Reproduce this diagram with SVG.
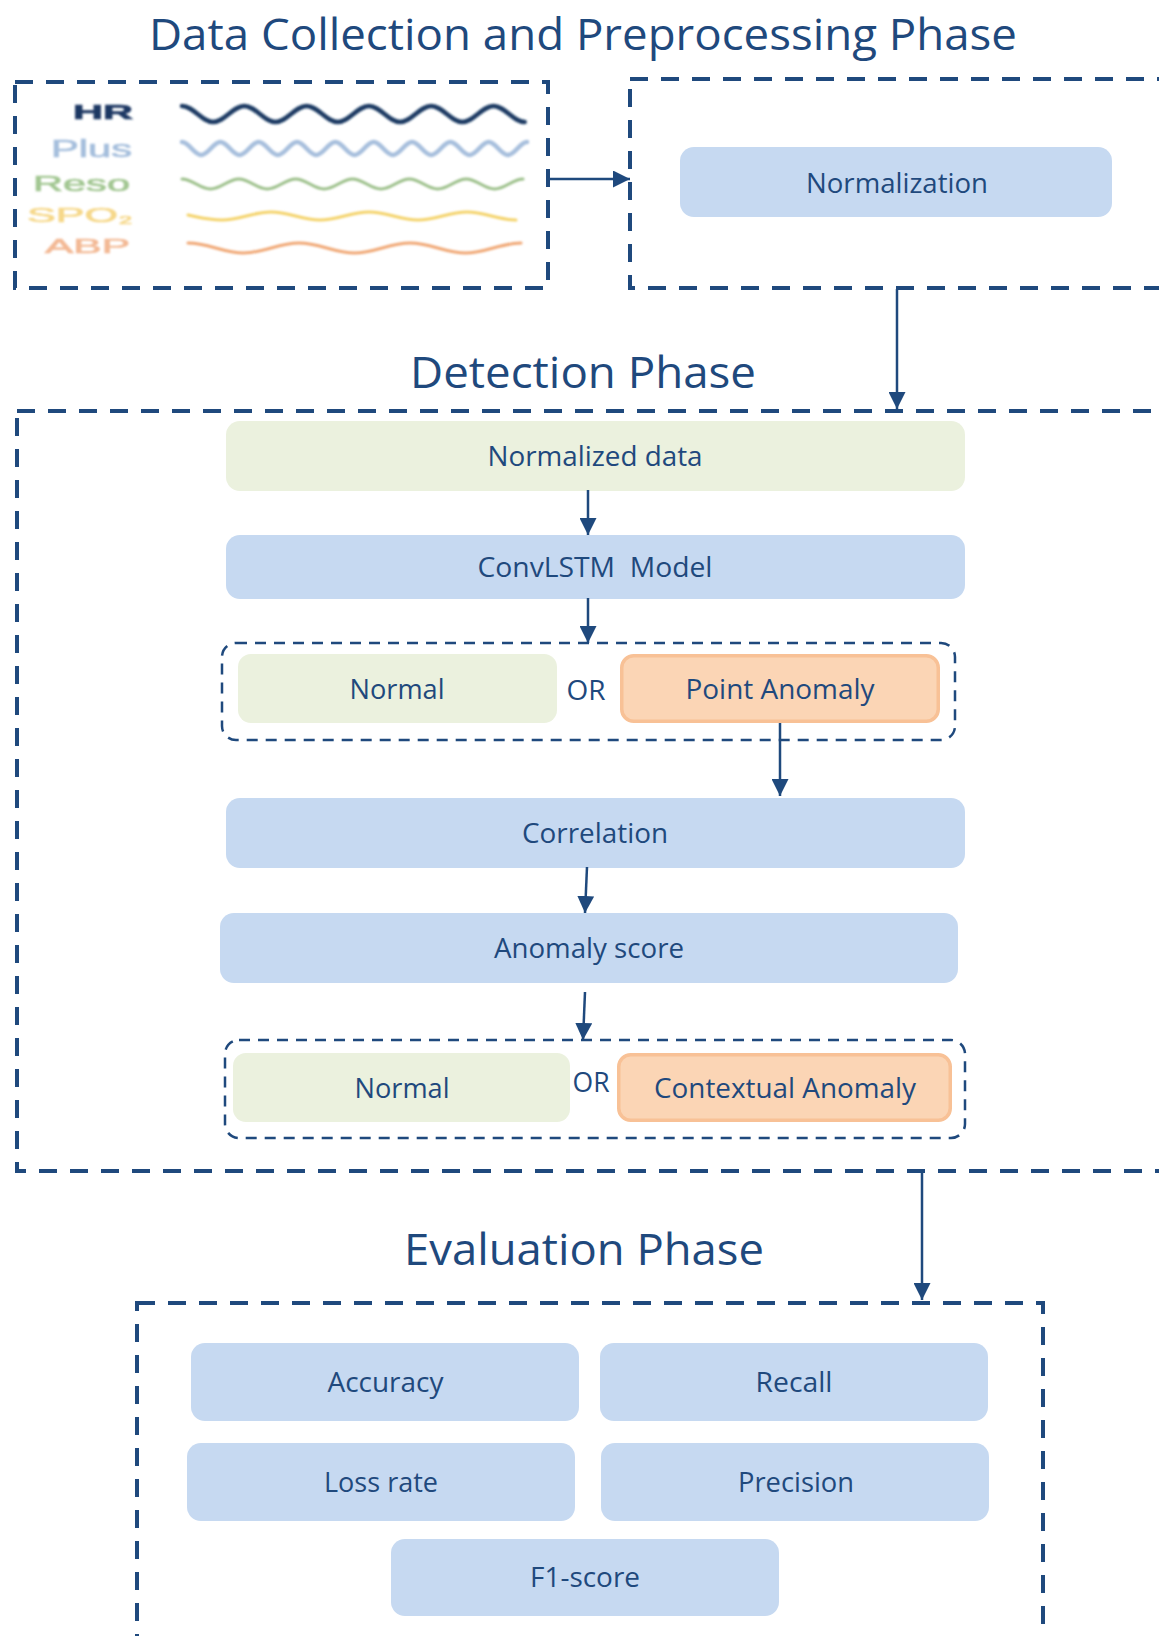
<svg xmlns="http://www.w3.org/2000/svg" width="1159" height="1636" viewBox="0 0 1159 1636">
  <style>
    .frame { fill: none; stroke: #1F497D; stroke-width: 4; stroke-dasharray: 18 13; }
    .group { fill: none; stroke: #1F497D; stroke-width: 2.5; stroke-dasharray: 11 8; }
    .blue { fill: #C6D9F1; }
    .green { fill: #EBF1DE; }
    .orange { fill: #FBD5B5; stroke: #F8C196; stroke-width: 3.5; }
    .lbl { font-family: "Open Sans", "Noto Sans", sans-serif; font-size: 26.5px; fill: #1F497D; text-anchor: middle; }
    .title { font-family: "Open Sans", "Noto Sans", sans-serif; font-size: 44px; fill: #1F497D; text-anchor: middle; }
    .sig { font-family: "Liberation Sans", Arial, sans-serif; stroke-width: 0.7; }
    .wave { fill: none; stroke-linecap: round; }
    .conn line { stroke: #1F497D; stroke-width: 2.5; marker-end: url(#arrow); }
  </style>
  <defs>
    <marker id="arrow" markerUnits="userSpaceOnUse" markerWidth="17" markerHeight="17" refX="17" refY="8.5" orient="auto">
      <path d="M0,0 L17,8.5 L0,17 Z" fill="#1F497D"/>
    </marker>
    <filter id="soft" x="-5%" y="-5%" width="110%" height="110%">
      <feGaussianBlur stdDeviation="0.8"/>
    </filter>
  </defs>

  <rect width="1159" height="1636" fill="#FFFFFF"/>

  <!-- Phase titles -->
  <text class="title" x="583" y="50" textLength="868" lengthAdjust="spacingAndGlyphs">Data Collection and Preprocessing Phase</text>
  <text class="title" x="583" y="388" textLength="346" lengthAdjust="spacingAndGlyphs">Detection Phase</text>
  <text class="title" x="584" y="1265" textLength="360" lengthAdjust="spacingAndGlyphs">Evaluation Phase</text>

  <!-- Phase frames -->
  <rect class="frame" x="15" y="82" width="533" height="206"/>
  <rect class="frame" x="630" y="79" width="580" height="209"/>
  <rect class="frame" x="17" y="411" width="1190" height="760"/>
  <rect class="frame" x="137" y="1303" width="906" height="400"/>

  <!-- Vital-sign signals -->
  <g id="signals" filter="url(#soft)">
    <text class="sig" x="73" y="119" font-size="21" font-weight="bold" fill="#1F3864" stroke="#1F3864" textLength="60" lengthAdjust="spacingAndGlyphs">HR</text>
    <text class="sig" x="51" y="157" font-size="23.5" fill="#A6BFDD" stroke="#A6BFDD" textLength="81" lengthAdjust="spacingAndGlyphs">Plus</text>
    <text class="sig" x="33" y="191" font-size="22" fill="#A3C793" stroke="#A3C793" textLength="97" lengthAdjust="spacingAndGlyphs">Reso</text>
    <text class="sig" x="27" y="222" font-size="21" fill="#F6D88A" stroke="#F6D88A" textLength="91" lengthAdjust="spacingAndGlyphs">SPO</text>
    <text class="sig" x="119" y="224" font-size="11" fill="#F6D88A" stroke="#F6D88A" textLength="13" lengthAdjust="spacingAndGlyphs">2</text>
    <text class="sig" x="45" y="253" font-size="21" fill="#F3B995" stroke="#F3B995" textLength="85" lengthAdjust="spacingAndGlyphs">ABP</text>

    <!-- HR -->
    <path class="wave" stroke="#1B3A63" stroke-width="4.5" d="M182,106
      c11.35,0 19.8,16 31.15,16 c11.35,0 19.8,-16 31.15,-16
      c11.35,0 19.8,16 31.15,16 c11.35,0 19.8,-16 31.15,-16
      c11.35,0 19.8,16 31.15,16 c11.35,0 19.8,-16 31.15,-16
      c11.35,0 19.8,16 31.15,16 c11.35,0 19.8,-16 31.15,-16
      c11.35,0 19.8,16 31.15,16 c11.35,0 19.8,-16 31.15,-16
      c11.35,0 19.8,16 31.15,16"/>
    <!-- Plus -->
    <path class="wave" stroke="#A7BFDD" stroke-width="4.5" d="M182,142
      c6.98,0 12.19,13 19.17,13 c6.98,0 12.19,-13 19.17,-13
      c6.98,0 12.19,13 19.17,13 c6.98,0 12.19,-13 19.17,-13
      c6.98,0 12.19,13 19.17,13 c6.98,0 12.19,-13 19.17,-13
      c6.98,0 12.19,13 19.17,13 c6.98,0 12.19,-13 19.17,-13
      c6.98,0 12.19,13 19.17,13 c6.98,0 12.19,-13 19.17,-13
      c6.98,0 12.19,13 19.17,13 c6.98,0 12.19,-13 19.17,-13
      c6.98,0 12.19,13 19.17,13 c6.98,0 12.19,-13 19.17,-13
      c6.98,0 12.19,13 19.17,13 c6.98,0 12.19,-13 19.17,-13
      c6.98,0 12.19,13 19.17,13 c6.98,0 12.19,-13 19.17,-13"/>
    <!-- Reso -->
    <path class="wave" stroke="#9CC08A" stroke-width="3" d="M182,179
      c10.35,0 18.07,10 28.42,10 c10.35,0 18.07,-10 28.42,-10
      c10.35,0 18.07,10 28.42,10 c10.35,0 18.07,-10 28.42,-10
      c10.35,0 18.07,10 28.42,10 c10.35,0 18.07,-10 28.42,-10
      c10.35,0 18.07,10 28.42,10 c10.35,0 18.07,-10 28.42,-10
      c10.35,0 18.07,10 28.42,10 c10.35,0 18.07,-10 28.42,-10
      c10.35,0 18.07,10 28.42,10 c10.35,0 18.07,-10 28.42,-10"/>
    <!-- SPO2 -->
    <path class="wave" stroke="#F4D36A" stroke-width="3" d="M188,215
      c12,2.5 21,5 34,5
      c17.85,0 31.15,-8 49,-8 c17.85,0 31.15,8 49,8
      c17.85,0 31.15,-8 49,-8 c17.85,0 31.15,8 49,8
      c17.85,0 31.15,-8 49,-8 c17.85,0 31.15,8 49,8"/>
    <!-- ABP -->
    <path class="wave" stroke="#F0A774" stroke-width="3" d="M188,243
      c20.2,0 35.3,10 55.5,10 c20.2,0 35.3,-10 55.5,-10
      c20.2,0 35.3,10 55.5,10 c20.2,0 35.3,-10 55.5,-10
      c20.2,0 35.3,10 55.5,10 c20.2,0 35.3,-10 55.5,-10"/>
  </g>

  <!-- Preprocessing -->
  <g id="normalization">
    <rect class="blue" x="680" y="147" width="432" height="70" rx="14"/>
    <text class="lbl" x="897" y="193" textLength="182" lengthAdjust="spacingAndGlyphs">Normalization</text>
  </g>

  <!-- Detection -->
  <g id="normalized-data">
    <rect class="green" x="226" y="421" width="739" height="70" rx="14"/>
    <text class="lbl" x="595" y="466" textLength="215" lengthAdjust="spacingAndGlyphs">Normalized data</text>
  </g>
  <g id="convlstm">
    <rect class="blue" x="226" y="535" width="739" height="64" rx="14"/>
    <text class="lbl" x="595" y="577" xml:space="preserve" textLength="235" lengthAdjust="spacingAndGlyphs">ConvLSTM  Model</text>
  </g>
  <g id="point-result">
    <rect class="group" x="222" y="643" width="733" height="97" rx="14"/>
    <rect class="green" x="238" y="654" width="319" height="69" rx="13"/>
    <text class="lbl" x="397" y="699" textLength="95" lengthAdjust="spacingAndGlyphs">Normal</text>
    <text class="lbl" x="586" y="700" textLength="39" lengthAdjust="spacingAndGlyphs">OR</text>
    <rect class="orange" x="621.75" y="655.75" width="316.5" height="65.5" rx="12"/>
    <text class="lbl" x="780" y="699" textLength="189" lengthAdjust="spacingAndGlyphs">Point Anomaly</text>
  </g>
  <g id="correlation">
    <rect class="blue" x="226" y="798" width="739" height="70" rx="14"/>
    <text class="lbl" x="595" y="843" textLength="146" lengthAdjust="spacingAndGlyphs">Correlation</text>
  </g>
  <g id="anomaly-score">
    <rect class="blue" x="220" y="913" width="738" height="70" rx="14"/>
    <text class="lbl" x="589" y="958" textLength="190" lengthAdjust="spacingAndGlyphs">Anomaly score</text>
  </g>
  <g id="context-result">
    <rect class="group" x="225" y="1040" width="740" height="98" rx="14"/>
    <rect class="green" x="233" y="1053" width="337" height="69" rx="13"/>
    <text class="lbl" x="402" y="1098" textLength="95" lengthAdjust="spacingAndGlyphs">Normal</text>
    <text class="lbl" x="591" y="1092" textLength="37" lengthAdjust="spacingAndGlyphs">OR</text>
    <rect class="orange" x="618.75" y="1054.75" width="331.5" height="65.5" rx="12"/>
    <text class="lbl" x="785" y="1098" textLength="262" lengthAdjust="spacingAndGlyphs">Contextual Anomaly</text>
  </g>

  <!-- Evaluation -->
  <g id="accuracy">
    <rect class="blue" x="191" y="1343" width="388" height="78" rx="14"/>
    <text class="lbl" x="385.5" y="1392" textLength="116" lengthAdjust="spacingAndGlyphs">Accuracy</text>
  </g>
  <g id="recall">
    <rect class="blue" x="600" y="1343" width="388" height="78" rx="14"/>
    <text class="lbl" x="794" y="1392" textLength="77" lengthAdjust="spacingAndGlyphs">Recall</text>
  </g>
  <g id="loss-rate">
    <rect class="blue" x="187" y="1443" width="388" height="78" rx="14"/>
    <text class="lbl" x="381" y="1492" textLength="114" lengthAdjust="spacingAndGlyphs">Loss rate</text>
  </g>
  <g id="precision">
    <rect class="blue" x="601" y="1443" width="388" height="78" rx="14"/>
    <text class="lbl" x="796" y="1492" textLength="116" lengthAdjust="spacingAndGlyphs">Precision</text>
  </g>
  <g id="f1-score">
    <rect class="blue" x="391" y="1539" width="388" height="77" rx="14"/>
    <text class="lbl" x="585" y="1587" textLength="110" lengthAdjust="spacingAndGlyphs">F1-score</text>
  </g>

  <!-- Connectors -->
  <g id="connectors" class="conn">
    <line x1="548" y1="179" x2="630" y2="179"/>
    <line x1="897" y1="289" x2="897" y2="409"/>
    <line x1="588" y1="490" x2="588" y2="535"/>
    <line x1="588" y1="598" x2="588" y2="643"/>
    <line x1="780" y1="723" x2="780" y2="796"/>
    <line x1="587" y1="867" x2="585" y2="913"/>
    <line x1="585" y1="992" x2="583" y2="1040"/>
    <line x1="922" y1="1172" x2="922" y2="1300"/>
  </g>
</svg>
